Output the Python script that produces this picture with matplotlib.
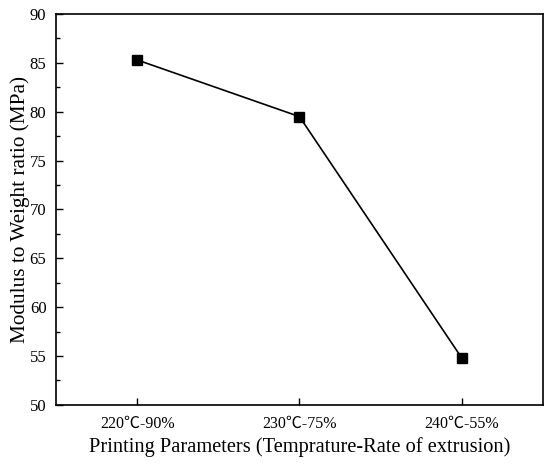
import numpy as np
import matplotlib.pyplot as plt
from matplotlib.ticker import MultipleLocator

# data
params = ['220℃-90%', '230℃-75%', '240℃-55%']
modulus_ratio = [85.3, 79.5, 54.8]

plt.rcParams['font.family'] = ['Liberation Serif', 'Noto Sans CJK SC', 'DejaVu Sans']

fig = plt.figure(figsize=(5.5, 4.68), dpi=100)
ax = fig.add_axes([0.102, 0.135, 0.885, 0.835])

x = np.arange(len(params))
ax.plot(x, modulus_ratio, color='black', lw=1.2, marker='s', ms=6.5,
        mec='black', mfc='black')

ax.set_xlim(-0.5, 2.5)
ax.set_ylim(50, 90)
ax.set_xticks(x)
ax.set_xticklabels(params, family=['Liberation Serif', 'Noto Sans CJK SC'])
ax.yaxis.set_major_locator(MultipleLocator(5))
ax.yaxis.set_minor_locator(MultipleLocator(2.5))
ax.tick_params(axis='both', which='both', direction='in')
ax.tick_params(axis='both', which='major', length=5, width=1)
ax.tick_params(axis='y', which='major', labelsize=12, pad=7)
ax.tick_params(axis='y', which='minor', length=3, width=1)
ax.tick_params(axis='x', which='major', labelsize=11.5, pad=8)
for s in ax.spines.values():
    s.set_linewidth(1.2)

ax.set_xlabel('Printing Parameters (Temprature-Rate of extrusion)', fontsize=14.7, labelpad=4)
ax.set_ylabel('Modulus to Weight ratio (MPa)', fontsize=15.3, labelpad=0)

fig.savefig('out.png', dpi=100)
